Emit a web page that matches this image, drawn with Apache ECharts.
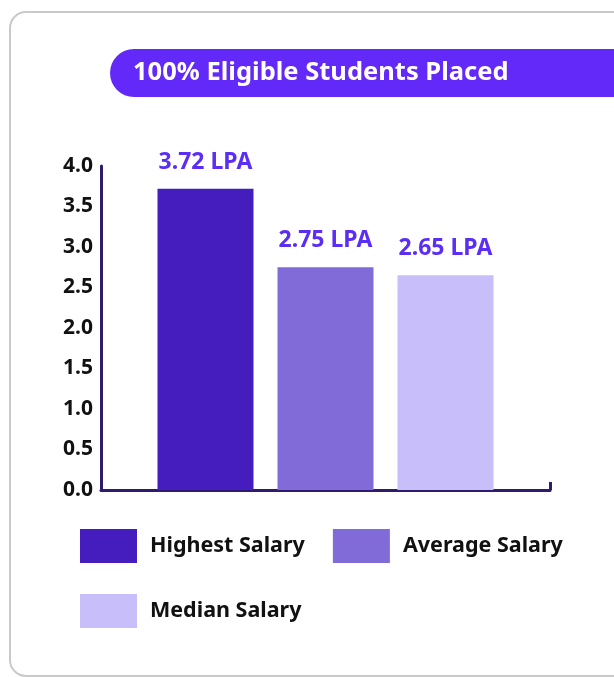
<!DOCTYPE html>
<html>
<head>
<meta charset="utf-8">
<script src="https://cdn.jsdelivr.net/npm/echarts@6/dist/echarts.min.js"></script>
<style>
html,body{margin:0;padding:0;background:#fff;}
#chart{width:614px;height:677px;}
</style>
</head>
<body>
<div id="chart"></div>
<script>
const titleText = '100% Eligible Students Placed';
const categories = [''];
const seriesNames = ['Highest Salary', 'Average Salary', 'Median Salary'];
const seriesValues = [3.72, 2.75, 2.65];
const valueLabels = ['3.72 LPA', '2.75 LPA', '2.65 LPA'];
const seriesColors = ['#451cbd', '#816bd8', '#c8bef9'];
const yMin = 0, yMax = 4, yInterval = 0.5;

const FONT = '"Noto Sans", Lato, sans-serif';
const chart = echarts.init(document.getElementById('chart'));

const series = seriesNames.map((name, i) => ({
  name: name,
  type: 'bar',
  data: [seriesValues[i]],
  barWidth: 96,
  barGap: '25%',
  itemStyle: { color: seriesColors[i] },
  label: {
    show: true,
    position: 'top',
    distance: 15,
    formatter: () => valueLabels[i],
    color: '#5b2ef5',
    fontFamily: FONT,
    fontWeight: 'bold',
    fontSize: 23
  }
}));

const legendText = {
  color: '#111111',
  fontFamily: FONT,
  fontWeight: 'bold',
  fontSize: 21.5,
  padding: [0, 0, 0, 8]
};

chart.setOption({
  animation: false,
  backgroundColor: '#ffffff',
  grid: { left: 101, right: 64, top: 166, bottom: 187 },
  graphic: [
    {
      type: 'rect',
      shape: { x: 10, y: 12, width: 640, height: 664, r: 16 },
      style: { fill: 'none', stroke: '#c9c9c9', lineWidth: 2 },
      z: -1
    },
    {
      type: 'rect',
      shape: { x: 110, y: 49, width: 560, height: 48, r: [24, 0, 0, 24] },
      style: { fill: '#6229f8' }
    },
    {
      type: 'text',
      x: 133, y: 73,
      style: {
        text: titleText,
        fill: '#ffffff',
        font: 'bold 25.5px ' + FONT,
        textVerticalAlign: 'middle'
      }
    }
  ],
  legend: [
    {
      left: 80,
      top: 529,
      padding: 0,
      itemWidth: 57,
      itemHeight: 34,
      itemGap: 28,
      icon: 'rect',
      selectedMode: false,
      data: seriesNames.slice(0, 2),
      textStyle: legendText
    },
    {
      left: 80,
      top: 594,
      padding: 0,
      itemWidth: 57,
      itemHeight: 34,
      icon: 'rect',
      selectedMode: false,
      data: seriesNames.slice(2),
      textStyle: legendText
    }
  ],
  xAxis: {
    type: 'category',
    data: categories,
    axisLine: { lineStyle: { color: '#2f1a6e', width: 3 } },
    axisTick: { show: true, inside: true, length: 8, lineStyle: { color: '#2f1a6e', width: 3 } },
    axisLabel: { show: false }
  },
  yAxis: {
    type: 'value',
    min: yMin,
    max: yMax,
    interval: yInterval,
    splitLine: { show: false },
    axisLine: { show: true, lineStyle: { color: '#2f1a6e', width: 3 } },
    axisTick: { show: false },
    axisLabel: {
      margin: 8,
      color: '#111111',
      fontFamily: FONT,
      fontWeight: 'bold',
      fontSize: 21,
      formatter: v => v.toFixed(1)
    }
  },
  series: series
});
</script>
</body>
</html>
